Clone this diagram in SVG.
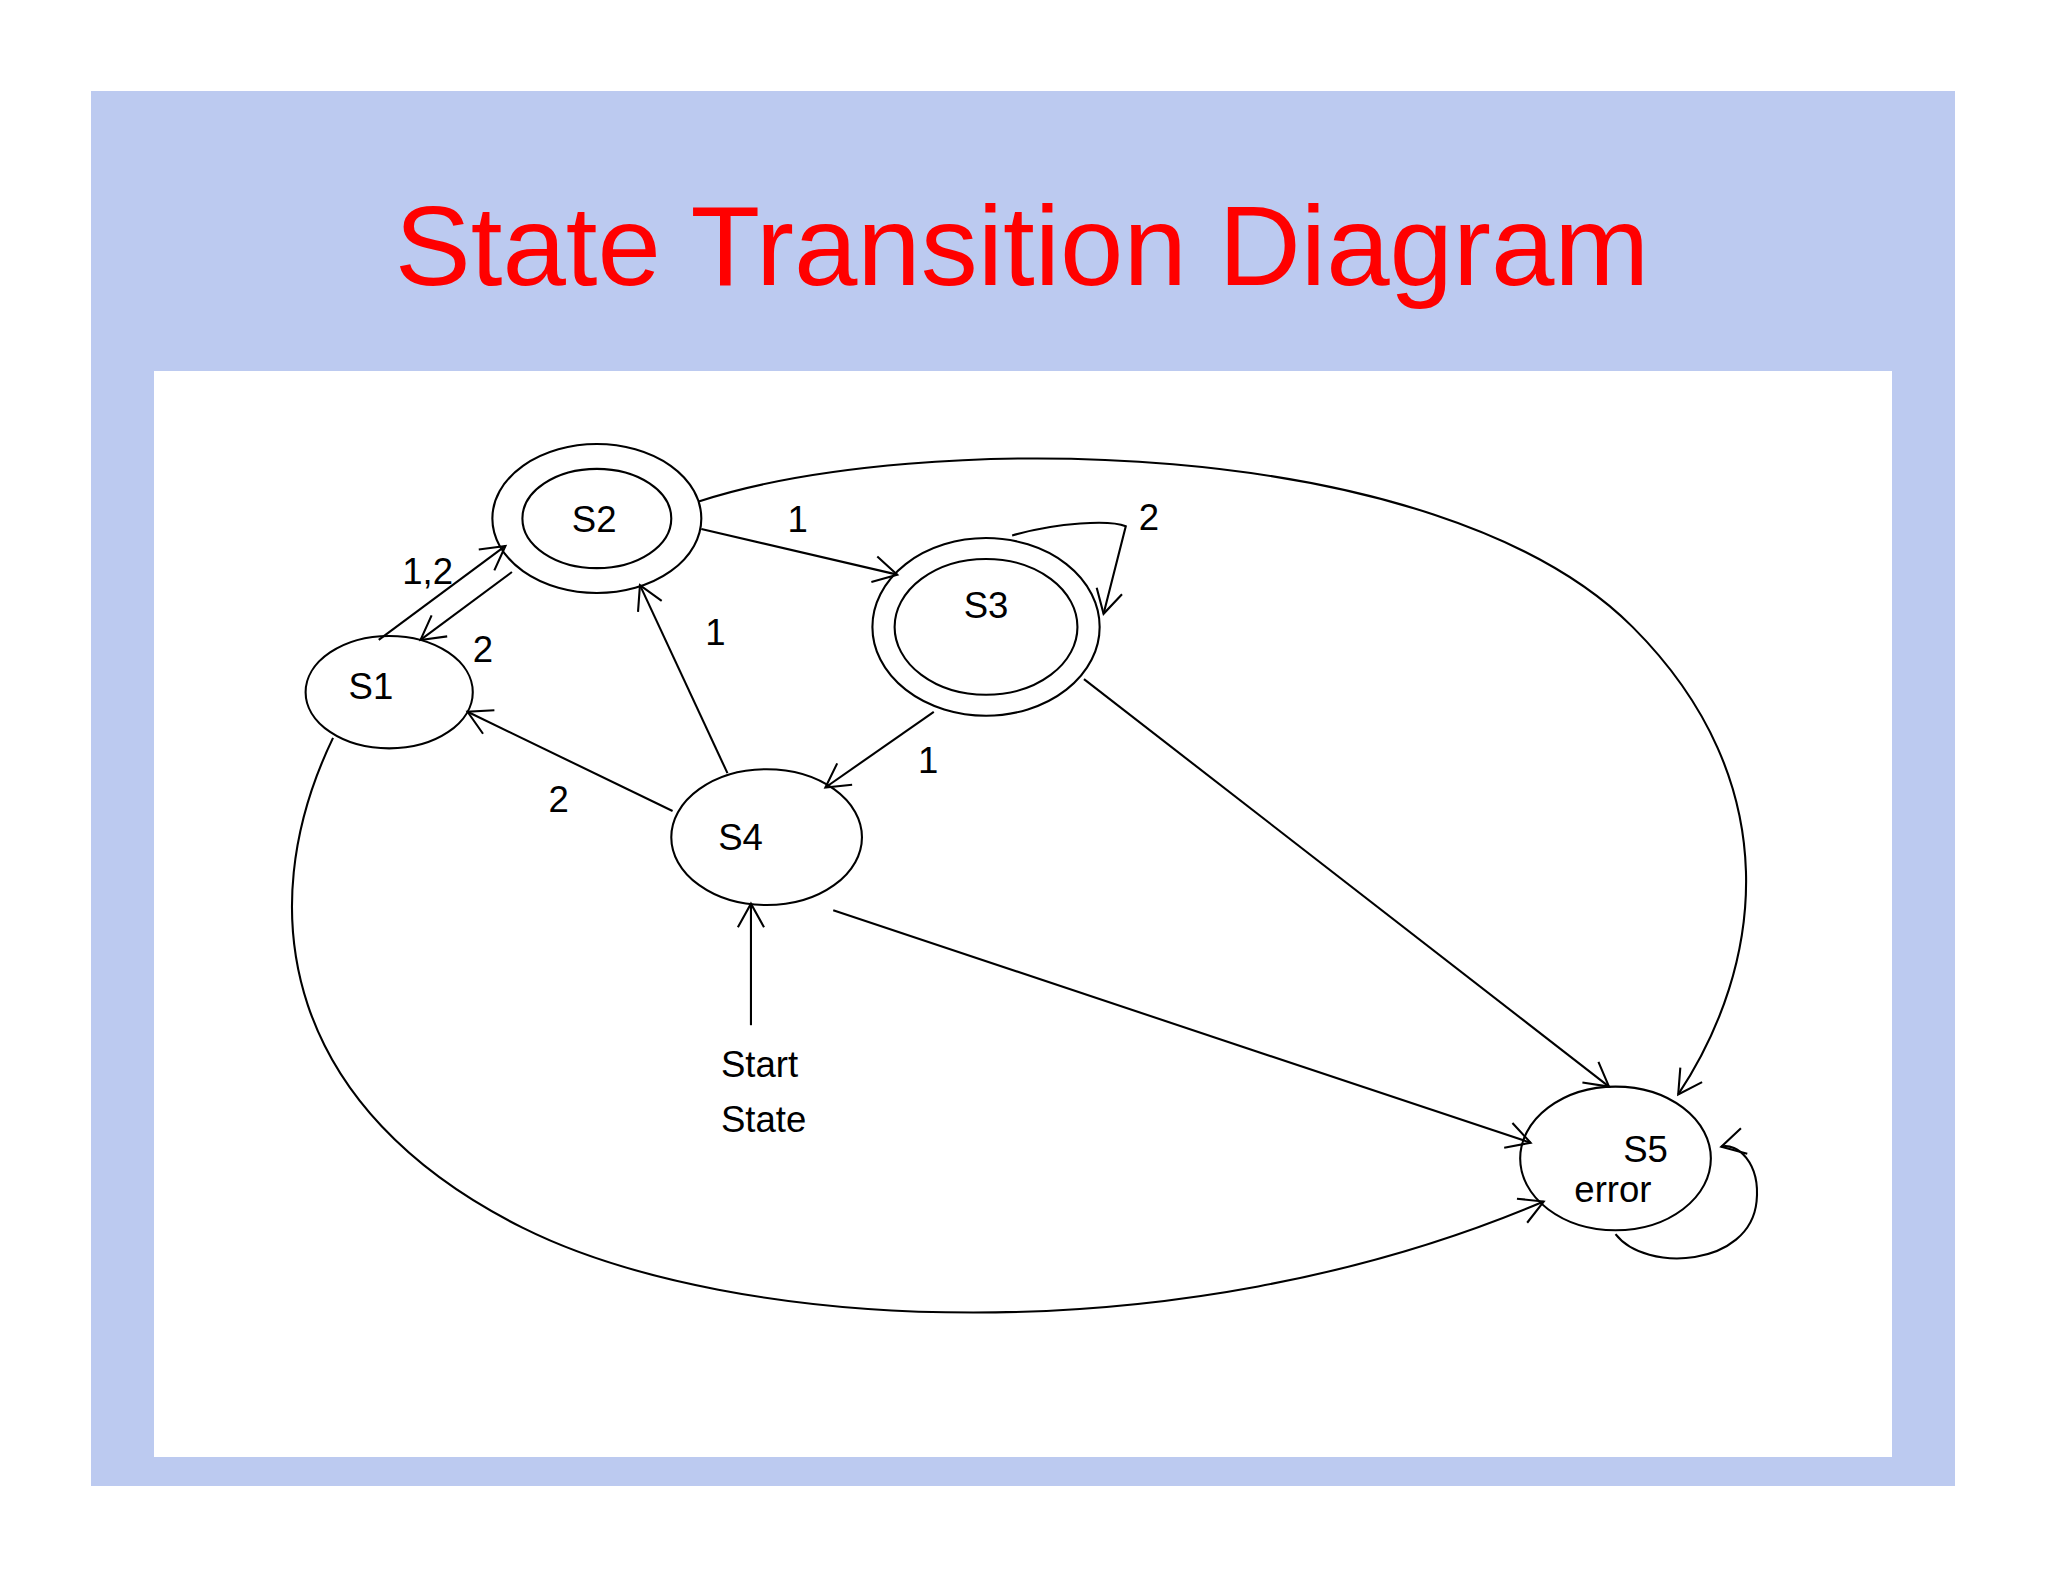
<svg xmlns="http://www.w3.org/2000/svg" width="2048" height="1582" viewBox="0 0 2048 1582">
<style>
.n{fill:none;stroke:#000;stroke-width:1.6}
.t{font-family:"Liberation Sans",Arial,sans-serif;font-size:28px;fill:#000}
.e{fill:none;stroke:#000;stroke-width:1.6}
</style>
<defs>
<marker id="a" markerWidth="24" markerHeight="24" refX="20" refY="12" orient="auto" markerUnits="userSpaceOnUse">
<path d="M2,2 L20,12 L2,22" fill="none" stroke="#000" stroke-width="1.6"/>
</marker>
</defs>
<rect width="2048" height="1582" fill="#fff"/>
<rect x="91" y="91" width="1864" height="1395" fill="#bccaf0"/>
<rect x="154" y="371" width="1738" height="1086" fill="#fff"/>
<text x="1022" y="285" text-anchor="middle" font-family="Liberation Sans,Arial,sans-serif" font-size="114" fill="#f00">State Transition Diagram</text>
<g transform="scale(1.306)">
<g id="connectors">
<line class="e" x1="290" y1="490" x2="387" y2="418" marker-end="url(#a)"/>
<line class="e" x1="392" y1="438" x2="322" y2="490" marker-end="url(#a)"/>
<line class="e" x1="537" y1="405" x2="687" y2="440" marker-end="url(#a)"/>
<path class="e" d="M775,410 C810,400 850,398 862,403 L845,470" marker-end="url(#a)"/>
<line class="e" x1="557" y1="592" x2="490" y2="448" marker-end="url(#a)"/>
<line class="e" x1="515" y1="621" x2="358" y2="545" marker-end="url(#a)"/>
<line class="e" x1="715" y1="545" x2="632" y2="603" marker-end="url(#a)"/>
<path class="e" d="M535,384 C700,330 1100,330 1250,480 C1370,600 1350,740 1285,838" marker-end="url(#a)"/>
<line class="e" x1="830" y1="520" x2="1232" y2="832" marker-end="url(#a)"/>
<line class="e" x1="638" y1="697" x2="1172" y2="875" marker-end="url(#a)"/>
<path class="e" d="M255,565 C190,700 220,850 400,940 C560,1020 900,1040 1182,920" marker-end="url(#a)"/>
<path class="e" d="M1237,945 C1260,975 1340,970 1345,920 C1348,890 1330,875 1318,878" marker-end="url(#a)"/>
<line class="e" x1="575" y1="785" x2="575" y2="692" marker-end="url(#a)"/>
<text class="t" x="308" y="447">1,2</text>
<text class="t" x="362" y="507">2</text>
<text class="t" x="603" y="407">1</text>
<text class="t" x="872" y="406">2</text>
<text class="t" x="540" y="494">1</text>
<text class="t" x="420" y="622">2</text>
<text class="t" x="703" y="592">1</text>
</g>
<g id="S1"><ellipse class="n" cx="298" cy="530" rx="64" ry="43"/><text class="t" x="284" y="535" text-anchor="middle">S1</text></g>
<g id="S2"><ellipse class="n" cx="457" cy="397" rx="80" ry="57"/><ellipse class="n" cx="457" cy="397" rx="57" ry="38"/><text class="t" x="455" y="407" text-anchor="middle">S2</text></g>
<g id="S3"><ellipse class="n" cx="755" cy="480" rx="87" ry="68"/><ellipse class="n" cx="755" cy="480" rx="70" ry="52"/><text class="t" x="755" y="473" text-anchor="middle">S3</text></g>
<g id="S4"><ellipse class="n" cx="587" cy="641" rx="73" ry="52"/><text class="t" x="567" y="651" text-anchor="middle">S4</text></g>
<g id="S5"><ellipse class="n" cx="1237" cy="887" rx="73" ry="55"/><text class="t" x="1260" y="890" text-anchor="middle">S5</text><text class="t" x="1235" y="920" text-anchor="middle">error</text></g>
<g id="start"><text class="t" x="552" y="825">Start</text><text class="t" x="552" y="867">State</text></g>
</g>
</svg>
